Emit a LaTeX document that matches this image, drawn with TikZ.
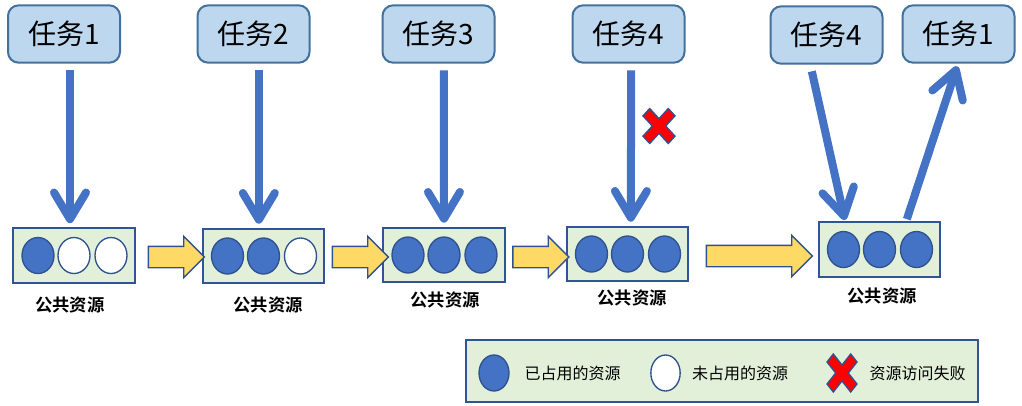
\documentclass[tikz,border=0pt]{standalone}
\usepackage{fontspec}
\setmainfont{Noto Sans CJK SC}[BoldFont={Noto Sans CJK SC Bold}]
\usetikzlibrary{arrows.meta,shapes.geometric,shapes.arrows}
\definecolor{taskfill}{HTML}{BDD7EE}
\definecolor{taskedge}{HTML}{41719C}
\definecolor{poolfill}{HTML}{E2F0D9}
\definecolor{pooledge}{HTML}{2F5597}
\definecolor{busyblue}{HTML}{4472C4}
\definecolor{ringedge}{HTML}{2F528F}
\definecolor{flowfill}{HTML}{FFD966}
\tikzset{
    failmark/.pic={
        \path[fill=red, draw=ringedge, line width=1pt]
            (0,0.42) -- (0.58,1) -- (1,0.58) -- (0.42,0) -- (1,-0.58) -- (0.58,-1)
            -- (0,-0.42) -- (-0.58,-1) -- (-1,-0.58) -- (-0.42,0) -- (-1,0.58)
            -- (-0.58,1) -- cycle;
    }
}

\begin{document}
\begin{tikzpicture}[x=0.75pt, y=-0.75pt,
    task/.style={draw=taskedge, fill=taskfill, line width=1.5pt, rounded corners=8pt,
                 minimum width=84pt, minimum height=43pt, font=\fontsize{21}{21}\selectfont},
    pool/.style={draw=pooledge, fill=poolfill, line width=1.5pt,
                 minimum width=91pt, minimum height=41pt},
    used/.style={ellipse, draw=ringedge, fill=busyblue, line width=1pt,
                 minimum width=24pt, minimum height=27pt, inner sep=0pt},
    free/.style={used, fill=white},
    flow/.style={single arrow, draw=ringedge, fill=flowfill, line width=1pt,
                 inner xsep=0pt, inner ysep=7.5pt, single arrow head extend=7.5pt,
                 minimum height=42pt},
    grab/.style={line width=6pt, color=busyblue,
                 -{Straight Barb[length=20pt,width=24pt,round]}},
    caption/.style={font=\bfseries\fontsize{13}{13}\selectfont},
    keytext/.style={font=\fontsize{12}{12}\selectfont}
]
    \useasboundingbox (0,0) rectangle (1022,405);

    % Tasks
    \node[task] (t1) at (64,34)    {任务1};
    \node[task] (t2) at (253.5,34) {任务2};
    \node[task] (t3) at (438.5,34) {任务3};
    \node[task] (t4) at (628.5,34) {任务4};
    \node[task] (t5) at (826.5,35) {任务4};
    \node[task] (t6) at (958.5,34) {任务1};

    % Shared resources
    \node[pool] (r1) at (74,255.5)  {};
    \node[pool] (r2) at (263.5,256) {};
    \node[pool] (r3) at (444,255)   {};
    \node[pool] (r4) at (627.5,254) {};
    \node[pool] (r5) at (879.5,249.5) {};
    \foreach \b/\p/\q/\r in {r1/used/free/free, r2/used/used/free, r3/used/used/used,
                             r4/used/used/used, r5/used/used/used} {
        \node[\p] (\b a) at ([xshift=-27pt]\b.center) {};
        \node[\q] (\b b) at (\b.center) {};
        \node[\r] (\b c) at ([xshift=27.75pt]\b.center) {};
    }
    \node[caption] (l1) at (70,305)  {公共资源};
    \node[caption] (l2) at (268,305) {公共资源};
    \node[caption] (l3) at (445,300) {公共资源};
    \node[caption] (l4) at (632,298) {公共资源};
    \node[caption] (l5) at (882,296) {公共资源};

    % Steps between states
    \node[flow] (f1) at (171,257)   {};
    \node[flow] (f2) at (355,257)   {};
    \node[flow] (f3) at (535.5,257) {};
    \node[flow, minimum height=79.5pt] (f4) at (754,256) {};

    % Requests
    \draw[grab] ([xshift=4.5pt,yshift=-5pt]t1.south) -- ([xshift=-3pt,yshift=3pt]r1.north);
    \draw[grab] ([xshift=4pt,yshift=-5pt]t2.south) -- ([xshift=-3.5pt,yshift=3pt]r2.north);
    \draw[grab] ([xshift=4pt,yshift=-5pt]t3.south) -- ([yshift=3pt]r3.north);
    \draw[grab] ([xshift=2pt,yshift=-5pt]t4.south) -- ([xshift=2.5pt,yshift=3pt]r4.north);
    \draw[grab] ([xshift=-11pt,yshift=-5pt]t5.south) -- ([xshift=-26pt,yshift=1pt]r5.north);
    \draw[grab] ([xshift=20.5pt,yshift=1.5pt]r5.north) -- ([xshift=-1pt,yshift=-2pt]t6.south);
    \pic[xscale=16, yscale=17.5] (deny) at (659,126) {failmark};

    % Legend
    \node[pool, minimum width=384pt, minimum height=46pt] (key) at (721.5,371) {};
    \node[used, minimum width=22.5pt, minimum height=27pt] (k1) at (494,373) {};
    \node[keytext] (k1t) at (572.5,373) {已占用的资源};
    \node[free, minimum width=22pt, minimum height=27pt] (k2) at (665.5,373) {};
    \node[keytext] (k2t) at (740,373) {未占用的资源};
    \pic[xscale=15, yscale=19] (k3) at (842,373) {failmark};
    \node[keytext] (k3t) at (917.5,373) {资源访问失败};
\end{tikzpicture}
\end{document}
